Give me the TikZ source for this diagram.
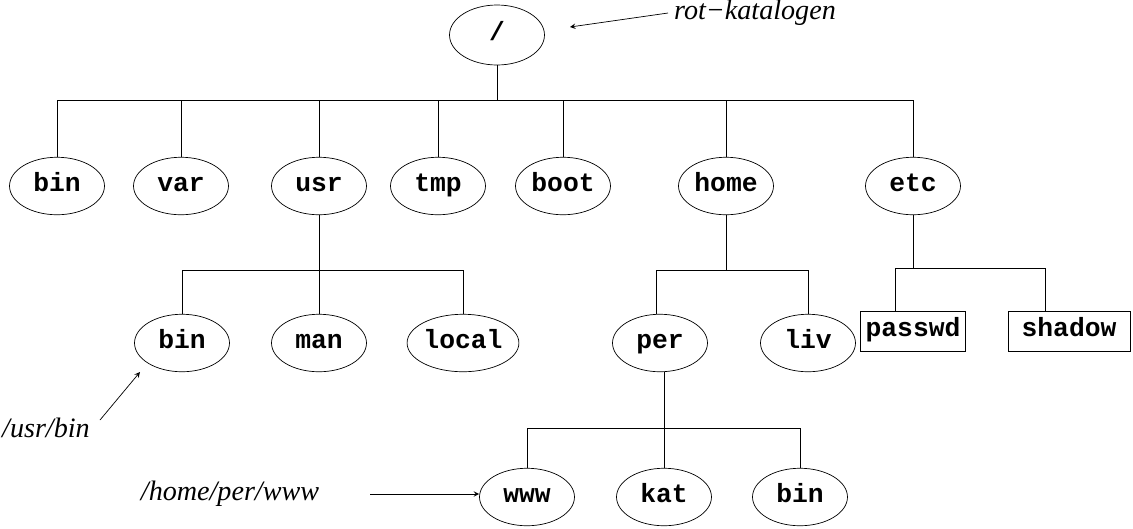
\documentclass[tikz,border=0pt]{standalone}
\usepackage{fontspec}
\setmainfont{Liberation Serif}
\setmonofont{Liberation Mono}
\usetikzlibrary{shapes.geometric}
\tikzset{
  dir/.style={draw, ellipse, minimum width=1.9cm, minimum height=1.15cm, inner sep=0pt, text height=1.6ex, text depth=0.3ex, font=\fontsize{15}{17}\selectfont\ttfamily\bfseries},
  fil/.style={draw, rectangle, minimum height=0.8cm, minimum width=2.2cm, inner sep=3pt, text height=1.6ex, text depth=0.3ex, font=\fontsize{15}{17}\selectfont\ttfamily\bfseries},
  note/.style={font=\fontsize{16}{18}\selectfont\itshape},
  branch/.style={thin}
}
\begin{document}
\begin{tikzpicture}[x=0.02cm, y=-0.02cm]
    \useasboundingbox (0,0) rectangle (1133,528);

    % Root directory
    \node[dir, minimum height=1.2cm] (root) at (497,35) {/};

    % First level
    \node[dir] (bin) at (57,186) {bin};
    \node[dir] (var) at (181,186) {var};
    \node[dir] (usr) at (319,186) {usr};
    \node[dir] (tmp) at (438,186) {tmp};
    \node[dir] (boot) at (563,186) {boot};
    \node[dir] (home) at (726,186) {home};
    \node[dir] (etc) at (913,186) {etc};

    % Under usr, home and etc
    \node[dir] (ubin) at (182,343) {bin};
    \node[dir] (man) at (319,343) {man};
    \node[dir] (local) at (463,343) {local};
    \node[dir] (per) at (660,343) {per};
    \node[dir] (liv) at (808,343) {liv};
    \node[fil, minimum width=1.96cm] (passwd) at (913,331) {passwd};
    \node[fil, minimum width=2.44cm] (shadow) at (1069,331) {shadow};

    % Under per
    \node[dir] (www) at (527,497) {www};
    \node[dir] (kat) at (664,497) {kat};
    \node[dir] (pbin) at (800,497) {bin};

    % Tree lines
    \coordinate (b0) at (0,100);
    \draw[branch] (root) -- (root |- b0);
    \draw[branch] (bin |- b0) -- (etc |- b0);
    \foreach \n in {bin,var,usr,tmp,boot,home,etc}
      \draw[branch] (\n) -- (\n |- b0);

    \coordinate (b1) at (0,270);
    \draw[branch] (usr) -- (usr |- b1);
    \draw[branch] (ubin |- b1) -- (local |- b1);
    \foreach \n in {ubin,man,local}
      \draw[branch] (\n) -- (\n |- b1);

    \coordinate (h1) at (656,270);
    \coordinate (h2) at (808,270);
    \draw[branch] (home) -- (home |- h1);
    \draw[branch] (h1) -- (h2);
    \draw[branch] (h1) -- (h1 |- per.north);
    \draw[branch] (h2) -- (liv);

    \coordinate (e1) at (895,268);
    \coordinate (e2) at (1045,268);
    \draw[branch] (etc) -- (etc |- e1);
    \draw[branch] (e1) -- (e2);
    \draw[branch] (e1) -- (e1 |- passwd.north);
    \draw[branch] (e2) -- (e2 |- shadow.north);

    \coordinate (p1) at (0,428);
    \coordinate (pk) at (664,0);
    \draw[branch] (pk |- per.south) -- (pk |- p1);
    \draw[branch] (www |- p1) -- (pbin |- p1);
    \foreach \n in {www,kat,pbin}
      \draw[branch] (\n) -- (\n |- p1);

    % Notes
    \node[note, anchor=west] (rot) at (668,13) {rot\textminus katalogen};
    \coordinate (rotend) at (570,27);
    \draw[->, >=stealth] (rot.west) -- (rotend);
    \node[note, anchor=west] (ub) at (-4,428) {/usr/bin};
    \coordinate (ubs) at (100,420);
    \coordinate (ube) at (140,372);
    \draw[->, >=stealth] (ubs) -- (ube);
    \node[note] (hpw) at (230,494) {/home/per/www};
    \coordinate (hs) at (370,494);
    \draw[->, >=stealth] (hs) -- (www.west |- hs);
\end{tikzpicture}
\end{document}
